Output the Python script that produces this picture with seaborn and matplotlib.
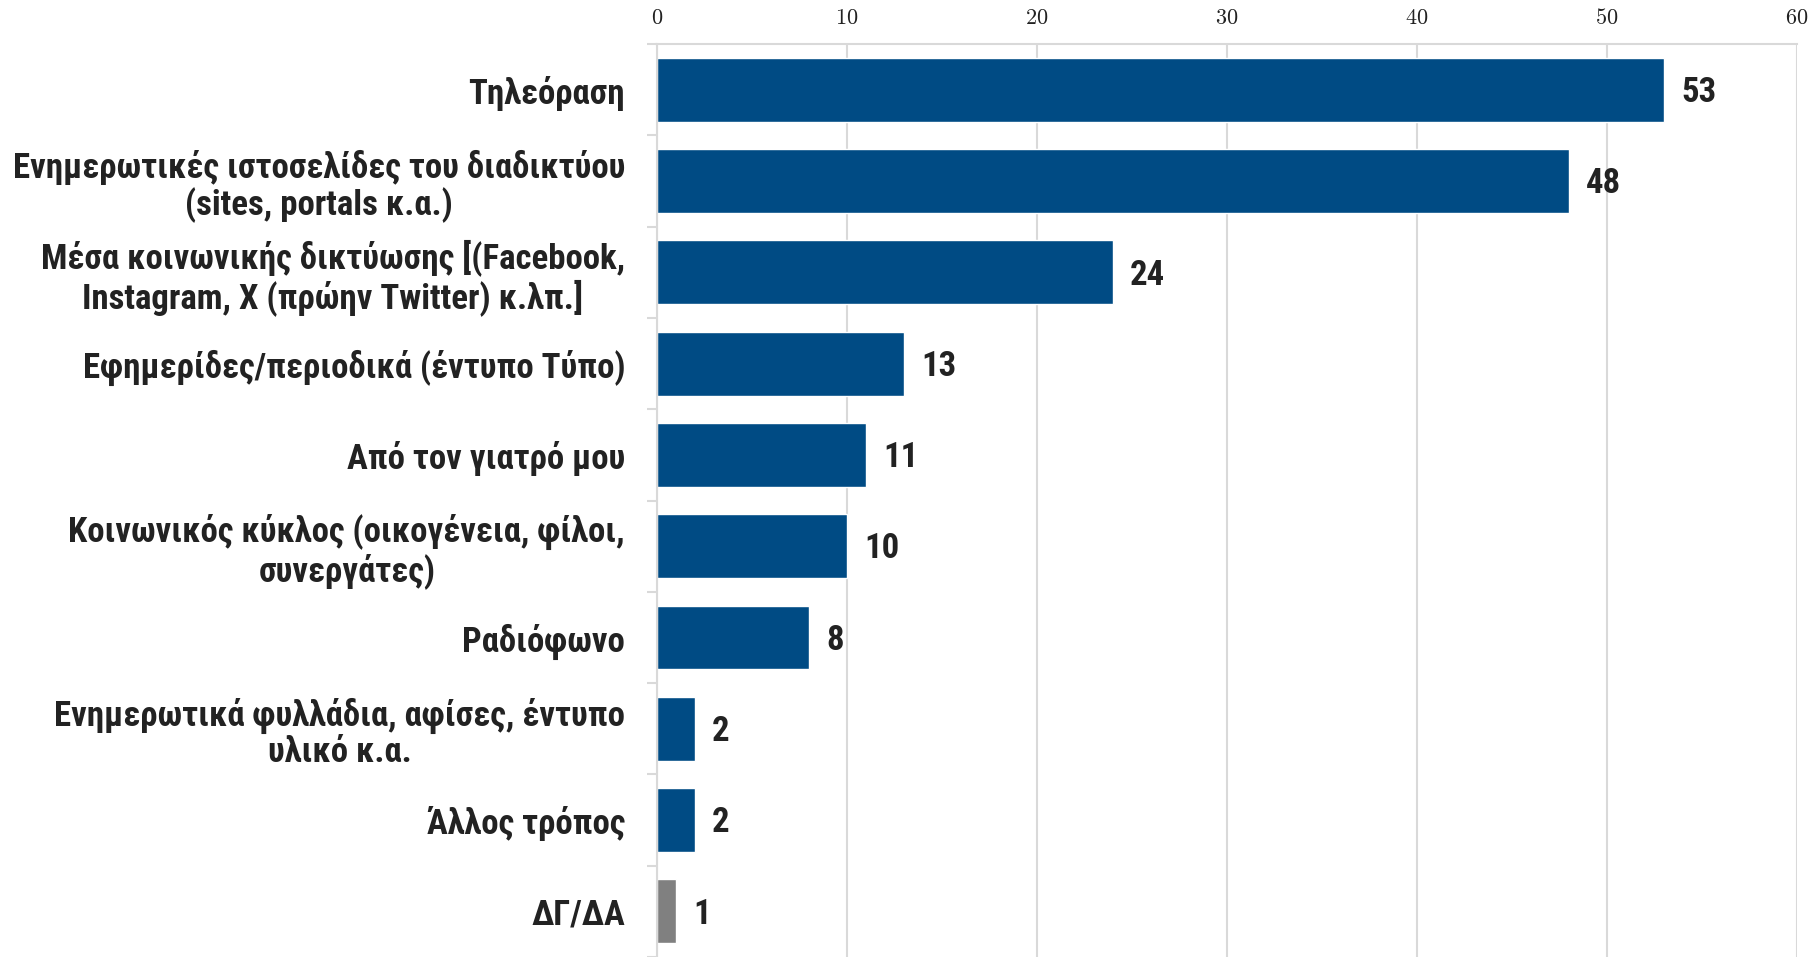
import matplotlib
matplotlib.use("Agg")
import matplotlib.pyplot as plt
import seaborn as sns
from matplotlib.ticker import FixedLocator

# Chart data
categories = [
    "Τηλεόραση",
    "Ενημερωτικές ιστοσελίδες του διαδικτύου\n(sites, portals κ.α.)",
    "Μέσα κοινωνικής δικτύωσης [(Facebook,\nInstagram, X (πρώην Twitter) κ.λπ.]",
    "Εφημερίδες/περιοδικά (έντυπο Τύπο)",
    "Από τον γιατρό μου",
    "Κοινωνικός κύκλος (οικογένεια, φίλοι,\nσυνεργάτες)",
    "Ραδιόφωνο",
    "Ενημερωτικά φυλλάδια, αφίσες, έντυπο\nυλικό κ.α.",
    "Άλλος τρόπος",
    "ΔΓ/ΔΑ",
]
values = [53, 48, 24, 13, 11, 10, 8, 2, 2, 1]
bar_colors = ["#004B84"] * 9 + ["#808080"]
x_ticks = [0, 10, 20, 30, 40, 50, 60]

sns.set_theme(style="white")
plt.rcParams["font.family"] = ["Roboto Condensed", "DejaVu Sans"]
plt.rcParams["mathtext.fontset"] = "cm"

fig = plt.figure(figsize=(18.15, 9.57), dpi=100)
ax = fig.add_axes([0.362, 0.0, 0.628, 0.954])

sns.barplot(x=values, y=categories, hue=categories, palette=bar_colors,
            width=0.7, legend=False, saturation=1, ax=ax)

ax.set_xlim(0, 60)
ax.set_ylim(len(categories) - 0.5, -0.5)
ax.set_xlabel("")
ax.set_ylabel("")

# x axis on top, serif tick labels
ax.xaxis.tick_top()
ax.set_xticks(x_ticks)
ax.set_xticklabels([f"${t}$" for t in x_ticks], fontsize=16, color="#222222")
ax.tick_params(axis="x", length=0, pad=11)
ax.grid(axis="x", color="#d9d9d9", linewidth=1.5)
ax.set_axisbelow(True)

# y labels, boundary ticks
for lab in ax.get_yticklabels():
    lab.set_fontsize(25)
    lab.set_fontweight("bold")
    lab.set_color("#222222")
    lab.set_multialignment("center")
    lab.set_linespacing(1.1)
ax.tick_params(axis="y", which="major", length=0, pad=23)
ax.yaxis.set_minor_locator(FixedLocator([i - 0.5 for i in range(len(categories) + 1)]))
ax.tick_params(axis="y", which="minor", length=7, width=1.5, color="#d9d9d9", left=True)

for side in ["right", "bottom"]:
    ax.spines[side].set_visible(False)
for side in ["left", "top"]:
    ax.spines[side].set_color("#d9d9d9")
    ax.spines[side].set_linewidth(1.5)

# value labels
for i, v in enumerate(values):
    ax.text(v + 0.9, i + 0.03, str(v), va="center", ha="left", fontsize=25,
            fontweight="bold", color="#222222")

fig.savefig("out.png", dpi=100)
